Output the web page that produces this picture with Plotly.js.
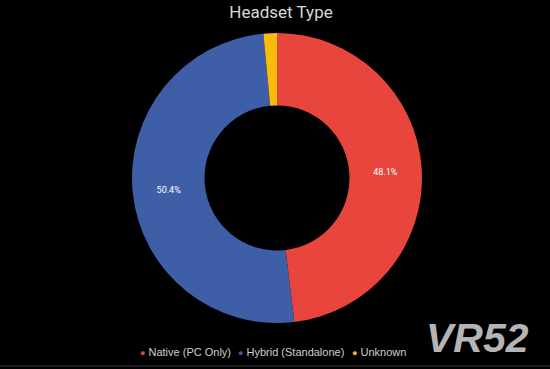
<!DOCTYPE html>
<html><head><meta charset="utf-8">
<script src="https://cdn.plot.ly/plotly-3.0.1.min.js"></script>
<style>html,body{margin:0;padding:0;background:#000;}#chart{width:550px;height:369px;}</style>
</head><body><div id="chart"></div>
<script>
const categories = ["Native (PC Only)", "Hybrid (Standalone)", "Unknown"];
const values = [48.1, 50.4, 1.5];
const colors = ["#E8453C", "#3F5EA8", "#F9BB0C"];
const legendLeft = [140, 238, 352];   // px where each legend entry's bullet begins

const pie = {
  type: "pie",
  labels: categories,
  values: values,
  sort: false,
  direction: "clockwise",
  rotation: 0,
  hole: 0.5,
  marker: {colors: colors, line: {width: 0}},
  textinfo: "percent",
  textposition: ["inside", "inside", "none"],
  insidetextorientation: "horizontal",
  textfont: {family: "Roboto", size: 9, color: "#ffffff"},
  domain: {x: [132/550, 422/550], y: [1 - 323/369, 1 - 33/369]},
  showlegend: false
};

const legendNames = ["legend", "legend2", "legend3"];
const legendTraces = categories.map((c, i) => ({
  type: "scatter", mode: "markers", x: [null], y: [null],
  name: "<span style='color:" + colors[i] + ";font-size:9px'>●</span> " + c,
  legend: legendNames[i],
  marker: {color: "rgba(0,0,0,0)", size: 1, opacity: 0}, showlegend: true
}));

const legendBase = {
  orientation: "h", xanchor: "left", y: 1 - 352/369, yanchor: "middle",
  font: {family: "Liberation Sans", size: 11, color: "#cfcfcf"},
  itemwidth: 30, bgcolor: "rgba(0,0,0,0)", borderwidth: 0
};

const layout = {
  width: 550, height: 369,
  paper_bgcolor: "#000", plot_bgcolor: "#000",
  margin: {l: 0, r: 0, t: 0, b: 0},
  title: {text: "Headset Type", x: 0.511, xanchor: "center", y: 1 - 12/369, yanchor: "middle",
          font: {family: "Roboto", size: 17, color: "#d9d9d9"}},
  xaxis: {visible: false}, yaxis: {visible: false},
  showlegend: true,
  legend: Object.assign({}, legendBase, {x: (legendLeft[0] - 40) / 550}),
  legend2: Object.assign({}, legendBase, {x: (legendLeft[1] - 40) / 550}),
  legend3: Object.assign({}, legendBase, {x: (legendLeft[2] - 40) / 550}),
  shapes: [{type: "line", xref: "paper", yref: "paper", x0: 0, x1: 1,
            y0: 1 - 366/369, y1: 1 - 366/369, line: {color: "#1c1c1c", width: 2}}],
  annotations: [{
    text: "VR52", xref: "paper", yref: "paper", x: 477/550, y: 1 - 338/369,
    xanchor: "center", yanchor: "middle", showarrow: false,
    font: {family: "Liberation Sans", size: 41, weight: "bold", style: "italic", color: "#b5b5b5"}
  }]
};

Plotly.newPlot("chart", [pie, ...legendTraces], layout, {displayModeBar: false, staticPlot: true});
</script></body></html>
